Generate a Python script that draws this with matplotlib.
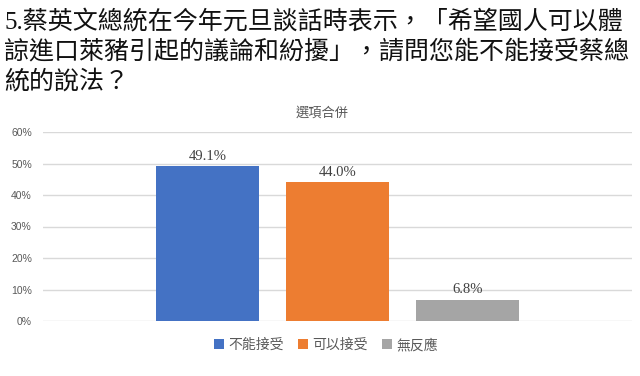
import numpy as np
import matplotlib.pyplot as plt

# survey answers (one category, three series)
labels = ["不能接受", "可以接受", "無反應"]
values = [0.491, 0.440, 0.068]
colors = ["#4472C4", "#ED7D31", "#A5A5A5"]
yticks = [0.0, 0.1, 0.2, 0.3, 0.4, 0.5, 0.6]

title_lines = [
    "5.蔡英文總統在今年元旦談話時表示，「希望國人可以體",
    "諒進口萊豬引起的議論和紛擾」，請問您能不能接受蔡總",
    "統的說法？",
]

cjk = ["Noto Sans CJK TC", "DejaVu Sans"]
grey = "#595959"

fig = plt.figure(figsize=(6.4, 3.76), dpi=100)
ax = fig.add_axes([43 / 640, 1 - 321 / 376, (632 - 43) / 640, (321 - 132) / 376])

x = np.arange(len(values))
bars = []
for i in range(len(values)):
    b = ax.bar(x[i], values[i], width=0.785, color=colors[i], label=labels[i], zorder=3)
    bars.append(b[0])
    ax.text(x[i], values[i] + 0.012, f"{values[i] * 100:.1f}%", ha="center", va="bottom",
            fontsize=10.5, family="Liberation Serif", color="#404040")

ax.set_xlim(1 - 2.265, 1 + 2.265)
ax.set_ylim(0, 0.6)
ax.set_yticks(yticks)
ax.set_yticklabels([f"{int(round(t * 100))}%" for t in yticks], family="Liberation Sans",
                   fontsize=7.5, color=grey)
ax.set_xticks([])
ax.tick_params(axis="y", length=0, pad=8)
ax.grid(axis="y", color="#D9D9D9", linewidth=1, zorder=0)
for s in ax.spines.values():
    s.set_visible(False)

# subtitle
fig.text(322 / 640, 1 - 113 / 376, "選項合併", ha="center", va="center",
         family=cjk, fontsize=9.5, color=grey)

# big question title
for k, line in enumerate(title_lines):
    fig.text(4 / 640, 1 - (22 + 30 * k) / 376, line, ha="left", va="center",
             family=["Liberation Serif", "Noto Sans CJK TC"], fontsize=18,
             fontweight="light", color="#111111")

leg = fig.legend(handles=bars, labels=labels, loc="center", bbox_to_anchor=(326 / 640, 1 - 345 / 376),
                 ncol=3, frameon=False, handlelength=0.7, handleheight=0.7, handletextpad=0.35,
                 columnspacing=1.0, prop={"family": cjk, "size": 10})
for t in leg.get_texts():
    t.set_color(grey)

fig.savefig("out.png", dpi=100)
